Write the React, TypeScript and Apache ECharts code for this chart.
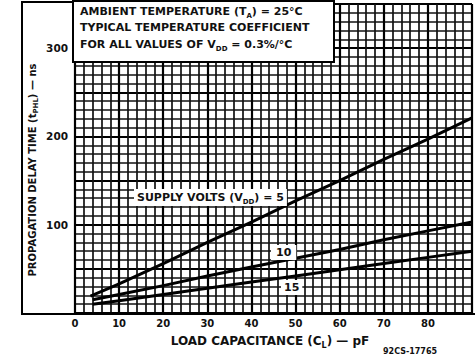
import React, { useEffect, useRef } from "react";
import * as echarts from "echarts";

const loadCapacitance5 = [3.5, 10, 20, 30, 40, 50, 60, 70, 80, 90];
const delay5 = [19, 33, 56, 80, 103, 127, 150, 174, 197, 221];
const loadCapacitance10 = [4, 10, 20, 30, 40, 50, 60, 70, 80, 90];
const delay10 = [15, 21, 31, 42, 52, 62, 72, 83, 93, 103];
const loadCapacitance15 = [4, 10, 20, 30, 40, 50, 60, 70, 80, 90];
const delay15 = [10, 14, 21, 28, 35, 42, 49, 56, 63, 70];
const xTickLabels = [0, 10, 20, 30, 40, 50, 60, 70, 80];
const yTickLabels = [100, 200, 300];

const FONT = "DejaVu Sans";

const pairs = (xs: number[], ys: number[]) => xs.map((x, i) => [x, ys[i]]);

const makeRich = (size: number, lh: number) => ({
  n: { fontFamily: FONT, fontWeight: "bold", fontSize: size, lineHeight: lh, fill: "#111" },
  s: { fontFamily: FONT, fontWeight: "bold", fontSize: Math.round(size * 0.68), lineHeight: Math.round(lh * 0.65), verticalAlign: "bottom", fill: "#111" },
});

export default function App() {
  const ref = useRef<HTMLDivElement>(null);
  useEffect(() => {
    if (!ref.current) return;
    const chart = echarts.init(ref.current, null, { renderer: "svg" });
    const lineSeries = (name: string, data: number[][]) => ({
      name,
      type: "line",
      data,
      showSymbol: false,
      smooth: false,
      lineStyle: { color: "#000", width: 3 },
      z: 5,
    });
    const rich11 = makeRich(11, 15);
    chart.setOption({
      animation: false,
      backgroundColor: "#fff",
      grid: { left: 75, right: 0, top: 4, bottom: 44 },
      xAxis: {
        type: "value",
        min: 0,
        max: 90,
        interval: 10,
        axisLine: { show: true, onZero: false, lineStyle: { color: "#000", width: 2 } },
        axisTick: { show: false },
        minorTick: { show: false, splitNumber: 5 },
        splitLine: { show: true, lineStyle: { color: "#000", width: 2.2 } },
        minorSplitLine: { show: true, lineStyle: { color: "#111", width: 1.7 } },
        axisLabel: {
          margin: 5,
          fontFamily: FONT,
          fontWeight: "bold",
          fontSize: 10,
          color: "#111",
          formatter: (v: number) => (xTickLabels.includes(v) ? String(v) : ""),
        },
      },
      yAxis: {
        type: "value",
        min: 0,
        max: 350,
        interval: 50,
        axisLine: { show: true, lineStyle: { color: "#000", width: 2 } },
        axisTick: { show: false },
        minorTick: { show: false, splitNumber: 5 },
        splitLine: { show: true, lineStyle: { color: "#000", width: 2.2 } },
        minorSplitLine: { show: true, lineStyle: { color: "#111", width: 1.7 } },
        axisLabel: {
          margin: 7,
          fontFamily: FONT,
          fontWeight: "bold",
          fontSize: 10.5,
          color: "#111",
          formatter: (v: number) => (yTickLabels.includes(v) ? String(v) : ""),
        },
      },
      series: [
        lineSeries("5", pairs(loadCapacitance5, delay5)),
        lineSeries("10", pairs(loadCapacitance10, delay10)),
        lineSeries("15", pairs(loadCapacitance15, delay15)),
      ],
      graphic: [
        { type: "line", z: 100, shape: { x1: 22, y1: 2, x2: 22, y2: 314 }, style: { stroke: "#000", lineWidth: 2 } },
        { type: "line", z: 100, shape: { x1: 21, y1: 314, x2: 475, y2: 314 }, style: { stroke: "#000", lineWidth: 2 } },
        { type: "line", z: 100, shape: { x1: 21, y1: 2, x2: 75, y2: 2 }, style: { stroke: "#000", lineWidth: 2 } },
        {
          type: "rect",
          z: 100,
          shape: { x: 73, y: 1, width: 261, height: 61 },
          style: { fill: "#fff", stroke: "#000", lineWidth: 2 },
        },
        {
          type: "text",
          z: 101,
          x: 80,
          y: 4,
          style: { text: "{n|AMBIENT TEMPERATURE (T}{s|A}{n|) = 25°C}", rich: rich11 },
        },
        {
          type: "text",
          z: 101,
          x: 80,
          y: 20,
          style: { text: "{n|TYPICAL TEMPERATURE COEFFICIENT}", rich: rich11 },
        },
        {
          type: "text",
          z: 101,
          x: 80,
          y: 37,
          style: { text: "{n|FOR ALL VALUES OF V}{s|DD}{n| = 0.3%/°C}", rich: rich11 },
        },
        {
          type: "text",
          z: 101,
          x: 134,
          y: 189,
          style: {
            text: "{n|SUPPLY VOLTS (V}{s|DD}{n|) = 5}",
            rich: rich11,
            backgroundColor: "#fff",
            padding: [1, 3, 1, 3],
          },
        },
        {
          type: "text",
          z: 101,
          x: 271,
          y: 245,
          style: { text: "{n|10}", rich: rich11, backgroundColor: "#fff", padding: [0, 5, 0, 5] },
        },
        {
          type: "text",
          z: 101,
          x: 281,
          y: 280,
          style: { text: "{n|15}", rich: rich11, backgroundColor: "#fff", padding: [0, 3, 0, 3] },
        },
        {
          type: "text",
          z: 101,
          x: 26,
          y: 170,
          rotation: Math.PI / 2,
          style: {
            text: "{n|PROPAGATION DELAY TIME (t}{s|PHL}{n|) — ns}",
            rich: makeRich(10, 13),
            align: "center",
            verticalAlign: "top",
          },
        },
        {
          type: "text",
          z: 101,
          x: 270,
          y: 333,
          style: {
            text: "{n|LOAD CAPACITANCE (C}{s|L}{n|) — pF}",
            rich: makeRich(12, 16),
            align: "center",
          },
        },
        {
          type: "text",
          z: 101,
          x: 383,
          y: 347,
          style: { text: "92CS-17765", fontFamily: FONT, fontWeight: "bold", fontSize: 8, fill: "#111" },
        },
      ],
    });
    return () => chart.dispose();
  }, []);
  return (
    <div
      ref={ref}
      style={{ position: "fixed", left: 0, top: 0, width: 475, height: 357 }}
    />
  );
}
